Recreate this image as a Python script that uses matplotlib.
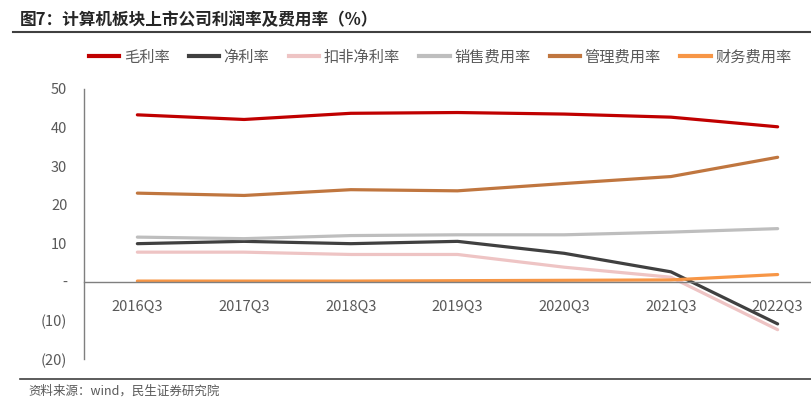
import numpy as np
import matplotlib
matplotlib.use('Agg')
import matplotlib.pyplot as plt
from matplotlib.lines import Line2D

plt.rcParams['font.family'] = ['Noto Sans CJK SC', 'DejaVu Sans']

quarters = ['2016Q3', '2017Q3', '2018Q3', '2019Q3', '2020Q3', '2021Q3', '2022Q3']
gross_margin = [43.3, 42.1, 43.7, 43.9, 43.5, 42.7, 40.2]
net_margin = [9.9, 10.5, 9.9, 10.5, 7.4, 2.6, -10.9]
net_margin_adj = [7.7, 7.7, 7.1, 7.1, 3.8, 1.2, -12.4]
selling_exp = [11.6, 11.2, 12.0, 12.2, 12.2, 12.9, 13.8]
admin_exp = [23.0, 22.4, 23.9, 23.6, 25.5, 27.3, 32.3]
finance_exp = [0.2, 0.2, 0.2, 0.3, 0.4, 0.5, 1.9]

series = [
    ('毛利率', gross_margin, '#C00000'),
    ('净利率', net_margin, '#404040'),
    ('扣非净利率', net_margin_adj, '#EEC4C4'),
    ('销售费用率', selling_exp, '#BEBEBE'),
    ('管理费用率', admin_exp, '#C0763F'),
    ('财务费用率', finance_exp, '#F79646'),
]

grey = '#595959'
fig = plt.figure(figsize=(8.11, 4.08), dpi=100)
ax = fig.add_axes([84 / 811, 49 / 408, 747 / 811, 270 / 408])

x = np.arange(len(quarters))
for name, vals, col in series:
    ax.plot(x, vals, color=col, lw=2.3, label=name, solid_capstyle='round')

ax.set_xlim(-0.5, len(quarters) - 0.5)
ax.set_ylim(-20, 50)
ax.set_yticks([50, 40, 30, 20, 10, 0, -10, -20])
ax.set_yticklabels(['50', '40', '30', '20', '10', '-', '(10)', '(20)'])
ax.set_xticks(x)
ax.set_xticklabels(quarters)
ax.tick_params(axis='both', length=0, colors=grey, labelsize=10.5)
ax.tick_params(axis='x', pad=13)
ax.tick_params(axis='y', pad=12)
for s in ['top', 'right']:
    ax.spines[s].set_visible(False)
ax.spines['bottom'].set_position(('data', 0))
ax.spines['bottom'].set_color('#7f7f7f')
ax.spines['left'].set_color('#7f7f7f')
ax.spines['bottom'].set_linewidth(1.0)
ax.spines['left'].set_linewidth(1.0)

handles = [Line2D([], [], color=c, lw=3) for _, _, c in series]
fig.legend(handles, [n for n, _, _ in series], loc='center', bbox_to_anchor=(0.5425, 1 - 57 / 408),
           ncol=6, frameon=False, fontsize=11, handlelength=2.0, handletextpad=0.3,
           columnspacing=1.25, labelcolor=grey)

fig.text(20 / 811, 1 - 20 / 408, '图7：计算机板块上市公司利润率及费用率（%）', fontsize=12,
         fontweight='bold', color='#262626', va='center', ha='left')
fig.add_artist(Line2D([13 / 811, 1], [1 - 32 / 408] * 2, color='#404040', lw=1.5))
fig.add_artist(Line2D([20 / 811, 1], [1 - 379 / 408] * 2, color='#404040', lw=1.2))
fig.text(28 / 811, 1 - 391 / 408, '资料来源：wind，民生证券研究院', fontsize=9,
         color=grey, va='center', ha='left')

fig.savefig('out.png', dpi=100)
